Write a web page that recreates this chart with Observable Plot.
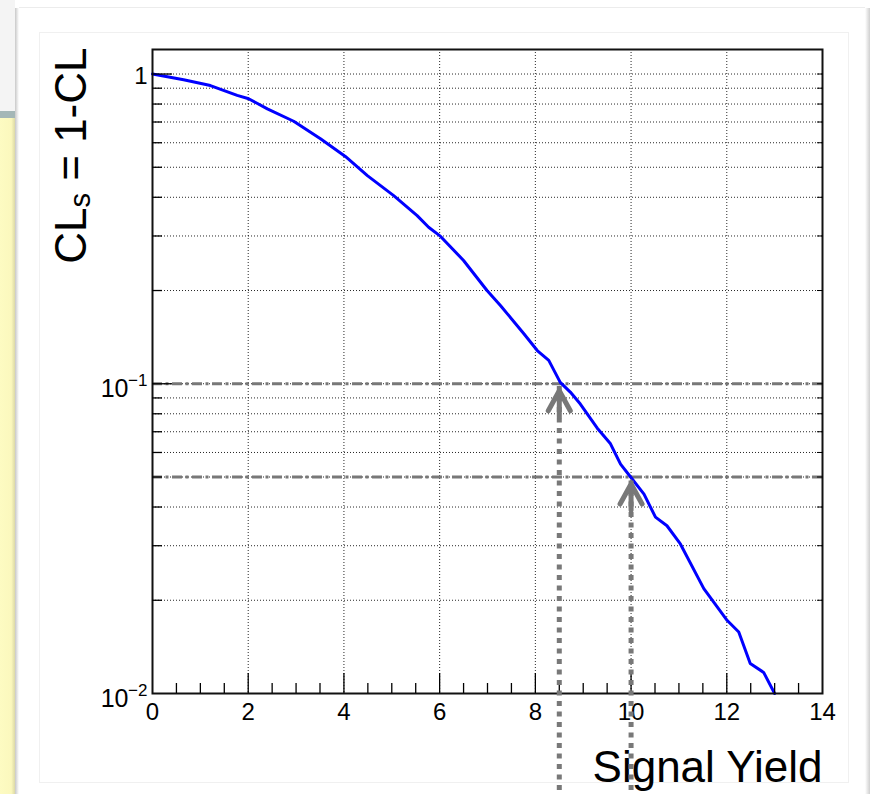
<!DOCTYPE html>
<html><head><meta charset="utf-8">
<script src="https://cdn.jsdelivr.net/npm/d3@7"></script>
<script src="https://cdn.jsdelivr.net/npm/@observablehq/plot@0.6"></script>
<style>
body{margin:0;background:#fff;}
#wrap{position:relative;width:872px;height:794px;overflow:hidden;background:#fff;font-family:"Liberation Sans",Arial,Helvetica,sans-serif;}
.deco{position:absolute;}
#chart{position:absolute;left:0;top:0;}
</style></head><body>
<div id="wrap">
 <div class="deco" style="left:0;top:0;width:15px;height:111px;background:#f4f4f4"></div>
 <div class="deco" style="left:0;top:111px;width:15px;height:7px;background:#a4b7b7"></div>
 <div class="deco" style="left:0;top:118px;width:15px;height:676px;background:linear-gradient(to right,#fdfbc2 0,#fbf8bd 75%,#dcd9a6 100%)"></div>
 <div class="deco" style="left:15px;top:8px;width:4px;height:786px;background:linear-gradient(to right,#c8c8c8,#fff)"></div>
 <div class="deco" style="left:19px;top:7px;width:846px;height:1px;background:#ececec"></div>
 <div class="deco" style="left:39px;top:32px;width:808px;height:749px;border:1px solid #f0f0f0"></div>
 <div class="deco" style="left:865px;top:8px;width:5px;height:786px;background:linear-gradient(to right,#fff,#cfcfcf)"></div>
 <div id="chart"></div>
</div>
<script>
// ---- data ----
const curveX = [0, 0.65, 1.21, 1.77, 2.01, 2.40, 2.95, 3.51, 4.03, 4.49, 5.04, 5.53, 5.77, 6.02, 6.50, 6.99, 7.27, 7.76, 8.04, 8.28, 8.52, 8.73, 8.94, 9.29, 9.57, 9.78, 9.99, 10.27, 10.51, 10.75, 11.03, 11.52, 12.01, 12.25, 12.49, 12.77, 13.0];
const curveY = [1.0, 0.958, 0.918, 0.853, 0.832, 0.772, 0.704, 0.618, 0.542, 0.470, 0.405, 0.349, 0.320, 0.299, 0.250, 0.200, 0.179, 0.145, 0.128, 0.119, 0.101, 0.094, 0.086, 0.072, 0.064, 0.055, 0.050, 0.044, 0.0371, 0.0348, 0.0304, 0.0218, 0.0172, 0.0158, 0.0125, 0.0117, 0.0100];
const xMajor = [0, 2, 4, 6, 8, 10, 12, 14];
const xMinor = [0.5, 1, 1.5, 2.5, 3, 3.5, 4.5, 5, 5.5, 6.5, 7, 7.5, 8.5, 9, 9.5, 10.5, 11, 11.5, 12.5, 13, 13.5];
const xGrid = [2, 4, 6, 8, 10, 12];
const yMajor = [0.1, 1];
const yMinor = [0.02, 0.03, 0.04, 0.05, 0.06, 0.07, 0.08, 0.09, 0.2, 0.3, 0.4, 0.5, 0.6, 0.7, 0.8, 0.9];
const yOneLabel = [1];
const yPowVals = [0.1, 0.01];
const yPowExps = ["\u22121", "\u22122"];
const limitLevels = [0.1, 0.05];
const arrowX = [8.5, 10.0];
const arrowTip = [0.1, 0.05];
const arrowBase = 0.0045;
const xTitle = "Signal Yield";
const yTitleParts = ["CL", "s", " = 1-CL"];

// ---- build ----
const curve = curveX.map((x, i) => ({x, y: curveY[i]}));
const arrows = arrowX.map((x, i) => ({x, tip: arrowTip[i], base: arrowBase}));
const yGrid = [...yMinor, ...yMajor];
const gray = "#787878";
const headShape = {draw(ctx, l) {
  ctx.moveTo(0, 0); ctx.lineTo(0, -l);
  ctx.moveTo(-11, -l + 20); ctx.lineTo(0, -l); ctx.lineTo(11, -l + 20);
}};
const font = "'Liberation Sans', Arial, Helvetica, sans-serif";
const yTitleJoined = yTitleParts.join("");

const svg = Plot.plot({
  width: 872, height: 794,
  marginLeft: 152, marginRight: 50, marginTop: 49, marginBottom: 101,
  x: {domain: [0, 14]},
  y: {type: "log", domain: [0.01, 1.2]},
  style: {background: "transparent", fontFamily: font, color: "#000", overflow: "visible"},
  marks: [
    Plot.ruleY(yGrid, {y: d => d, stroke: "#000", strokeWidth: 1, strokeDasharray: "1,2", strokeOpacity: 0.85}),
    Plot.ruleX(xGrid, {x: d => d, stroke: "#000", strokeWidth: 1, strokeDasharray: "1,2", strokeOpacity: 0.85}),
    Plot.ruleY(limitLevels, {y: d => d, stroke: gray, strokeWidth: 3, strokeDasharray: "10,3.5,3,3.5"}),
    Plot.line(curve, {x: "x", y: "y", stroke: "#0000ff", strokeWidth: 3, strokeLinejoin: "round"}),
    Plot.frame({stroke: "#111", strokeWidth: 2}),
    Plot.axisX(xMinor, {anchor: "bottom", tickSize: -10, fill: "none", stroke: "#000", strokeWidth: 1.3}),
    Plot.axisX(xMajor.filter(d => d > 0 && d < 14), {anchor: "bottom", tickSize: -20, fill: "none", stroke: "#000", strokeWidth: 1.3}),
    Plot.axisY(yMinor, {anchor: "left", tickSize: -10, fill: "none", stroke: "#000", strokeWidth: 1.3}),
    Plot.axisY(yMajor, {anchor: "left", tickSize: -20, fill: "none", stroke: "#000", strokeWidth: 1.3}),
    Plot.axisY(yGrid, {anchor: "right", tickSize: -6, fill: "none", stroke: "#000", strokeWidth: 1}),
    Plot.text(xMajor, {x: d => d, frameAnchor: "bottom", dy: 19, text: d => String(d), fontSize: 24, lineAnchor: "middle", fill: "#000"}),
    Plot.text(yOneLabel, {y: d => d, frameAnchor: "left", dx: -5, dy: 2, text: d => String(d), fontSize: 24, textAnchor: "end", lineAnchor: "middle", fill: "#000"}),
    Plot.text(yPowVals, {y: d => d, frameAnchor: "left", dx: -24, dy: 5, text: () => "10", fontSize: 25, textAnchor: "end", lineAnchor: "middle", fill: "#000"}),
    Plot.text(yPowVals, {y: d => d, frameAnchor: "left", dx: -5, dy: -3, text: (d, i) => yPowExps[i], fontSize: 17, textAnchor: "end", lineAnchor: "middle", fill: "#000"}),
    Plot.text([xTitle], {frameAnchor: "bottom-right", text: d => d, textAnchor: "end", lineAnchor: "bottom", dy: 88, fontSize: 44, fill: "#000"}),
    Plot.text([yTitleJoined], {frameAnchor: "top-left", text: d => d, rotate: -90, textAnchor: "end", lineAnchor: "bottom", dx: -67, dy: -2, fontSize: 44, fill: "#000"}),
    Plot.ruleX(arrows, {x: "x", y1: "base", y2: "tip", stroke: gray, strokeWidth: 5, strokeDasharray: "5,5.5"}),
    Plot.vector(arrows, {x: "x", y: "tip", length: 26, anchor: "end", rotate: 0, dy: 7, shape: headShape, stroke: gray, strokeWidth: 5, strokeLinejoin: "miter"})
  ]
});

// subscript for the y title
const ns = "http://www.w3.org/2000/svg";
for (const t of svg.querySelectorAll("text")) {
  if (t.textContent === yTitleJoined) {
    while (t.firstChild) t.removeChild(t.firstChild);
    const a = document.createElementNS(ns, "tspan"); a.textContent = yTitleParts[0];
    const b = document.createElementNS(ns, "tspan"); b.textContent = yTitleParts[1];
    b.setAttribute("font-size", "29"); b.setAttribute("dy", "4");
    const c = document.createElementNS(ns, "tspan"); c.textContent = yTitleParts[2];
    c.setAttribute("dy", "-4");
    t.appendChild(a); t.appendChild(b); t.appendChild(c);
  }
}
document.getElementById("chart").append(svg);
</script>
</body></html>
